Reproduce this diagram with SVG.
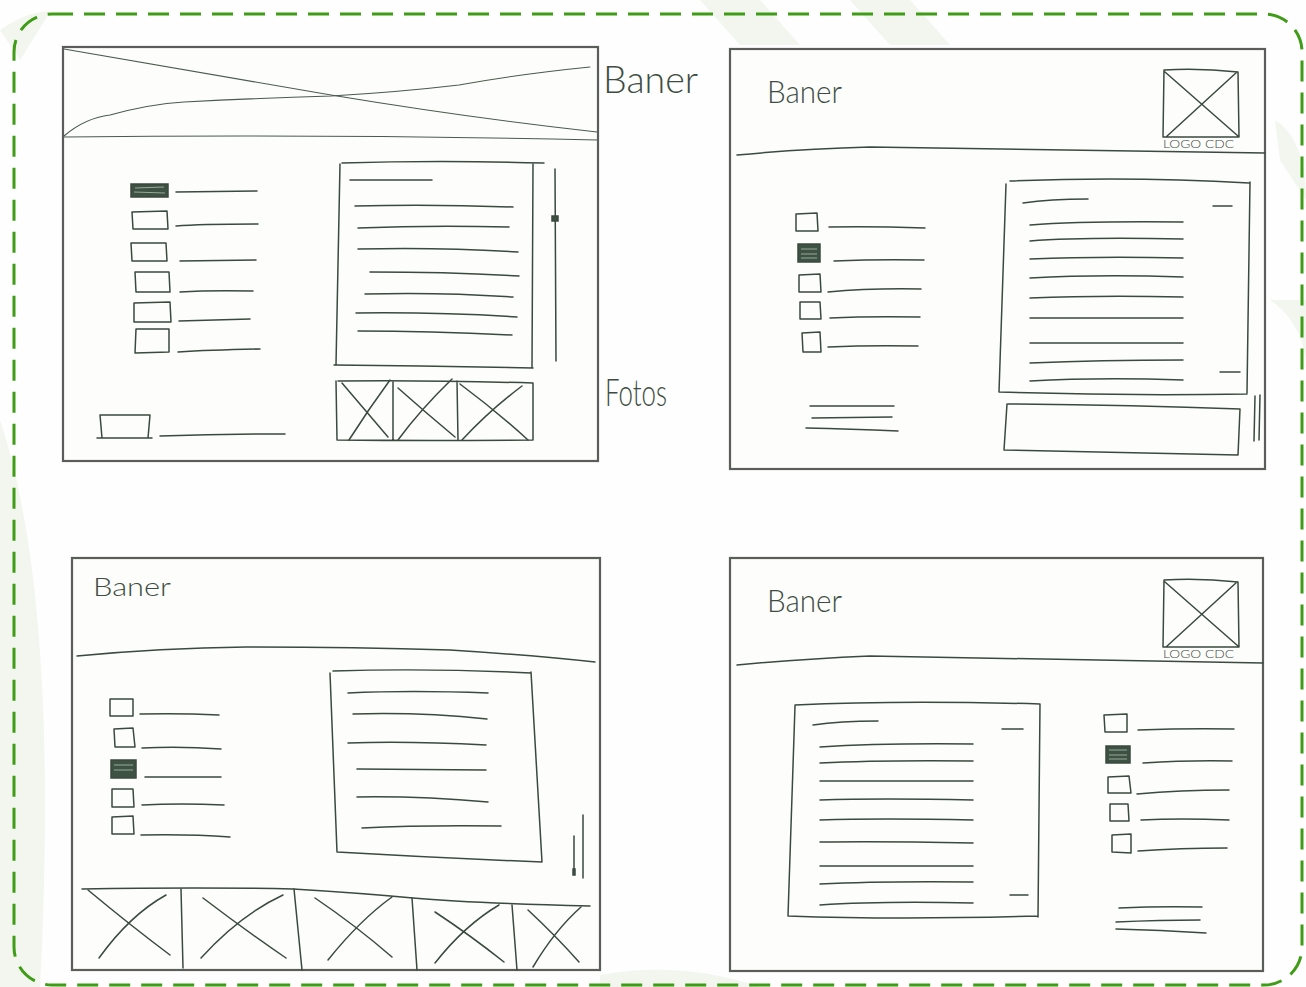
<svg xmlns="http://www.w3.org/2000/svg" width="1306" height="987" viewBox="0 0 1306 987">
<defs>
<style>
.bg{fill:#fefefe}
.wm{fill:#f2f6ee}
.border{fill:none;stroke:#3f9c17;stroke-width:3;stroke-dasharray:21 11}
.fr{fill:#fdfdfc;stroke:#5b5d5b;stroke-width:2.2}
.sk{fill:none;stroke:#3a4a3e;stroke-width:1.5;stroke-linecap:round;stroke-linejoin:round}
.thin{fill:none;stroke:#4a5a4e;stroke-width:1.1;stroke-linecap:round}
.chk{fill:#3d5243;stroke:#3a4a3e;stroke-width:1.5}
.chkl{fill:none;stroke:#9aa89c;stroke-width:1.2}
.hw{font-family:Lato,"Liberation Sans",sans-serif;font-weight:300;fill:#3e4d42}
</style>
</defs>
<rect class="bg" x="0" y="0" width="1306" height="987"/>
<g id="watermark">
<path class="wm" d="M0,420 Q60,600 40,987 L0,987 Z"/>
<path class="wm" d="M700,0 L760,0 L800,45 L740,45 Z"/>
<path class="wm" d="M850,0 L910,0 L950,45 L890,45 Z"/>
<path class="wm" d="M1275,120 Q1306,140 1306,200 L1280,160 Z"/>
<path class="wm" d="M1270,300 Q1300,320 1306,360 L1306,300 Z"/>
<path class="wm" d="M600,975 Q680,960 760,987 L600,987 Z"/>
<path class="wm" d="M0,30 Q30,10 50,12 L20,60 Z"/>
</g>
<g id="border">
<rect class="border" x="14" y="14" width="1288" height="971" rx="38" ry="38"/>
</g>

<g id="wireframe-1">
<rect class="fr" x="63" y="47" width="535" height="414"/>
<path class="thin" d="M64,49 Q200,72 331,95 Q470,118 597,132"/>
<path class="thin" d="M64,136 Q85,118 110,115 Q150,104 184,102 Q260,98 331,96 Q400,92 459,85 Q520,74 590,67"/>
<path class="thin" d="M64,137 Q330,134 597,140"/>
<text class="hw" x="603" y="93" font-size="38" textLength="95" lengthAdjust="spacingAndGlyphs">Baner</text>
<text class="hw" x="605" y="406" font-size="38" textLength="62" lengthAdjust="spacingAndGlyphs">Fotos</text>
<rect class="chk" x="131" y="184" width="37" height="13"/>
<path class="chkl" d="M135,188 L164,187 M134,192 L165,193"/>
<path class="sk" d="M176,192 L257,191"/>
<path class="sk" d="M132,212 L167,211 L168,229 L133,229 Z M176,226 Q200,224 258,224"/>
<path class="sk" d="M131,243 L166,243 L167,261 L132,261 Z M180,261 L256,260"/>
<path class="sk" d="M135,272 L169,272 L170,292 L136,292 Z M180,292 Q210,290 253,291"/>
<path class="sk" d="M134,303 L170,302 L171,322 L134,322 Z M179,321 L250,319"/>
<path class="sk" d="M136,329 L169,329 L169,352 L135,353 Z M178,352 Q210,350 260,349"/>
<path class="sk" d="M342,163 Q440,160 544,163 M340,164 L336,365 M533,164 L532,368 M334,365 Q430,366 533,368"/>
<path class="sk" d="M350,180 L432,180"/>
<path class="sk" d="M355,206 Q430,204 513,207"/>
<path class="sk" d="M358,228 Q430,225 509,227"/>
<path class="sk" d="M358,249 Q440,247 518,252"/>
<path class="sk" d="M370,272 Q450,272 519,276"/>
<path class="sk" d="M365,294 Q440,292 513,297"/>
<path class="sk" d="M356,313 Q440,312 517,317"/>
<path class="sk" d="M358,331 Q430,331 512,335"/>
<path class="sk" d="M555,169 L556,361"/>
<path class="chk" d="M552,216 L558,216 L558,221 L552,221 Z"/>
<path class="sk" d="M338,381 Q430,380 533,383 L533,440 Q430,441 337,440 L336,381 M393,381 L393,440 M457,381 L458,440"/>
<path class="sk" d="M342,383 Q365,410 388,437 M349,440 Q368,410 390,380"/>
<path class="sk" d="M398,388 Q425,412 455,437 M398,440 Q420,410 452,379"/>
<path class="sk" d="M460,384 Q495,410 528,440 M462,440 Q490,410 522,386"/>
<path class="sk" d="M100,415 L150,415 L148,438 L102,438 Z M97,438 L152,438 M160,436 Q220,434 285,434"/>
</g>

<g id="wireframe-2">
<rect class="fr" x="730" y="49" width="535" height="420"/>
<text class="hw" x="767" y="103" font-size="31" textLength="75" lengthAdjust="spacingAndGlyphs">Baner</text>
<path class="sk" d="M737,155 Q800,149 870,147 Q1050,149 1265,153"/>
<path class="sk" d="M1164,70 Q1200,68 1238,72 L1239,137 L1163,137 Z M1165,72 L1238,136 M1237,72 L1166,137"/>
<text class="hw" x="1163" y="148" font-size="12" textLength="71" lengthAdjust="spacingAndGlyphs">LOGO CDC</text>
<path class="sk" d="M796,214 L817,213 L818,231 L796,231 Z M829,227 Q870,226 925,228"/>
<rect class="chk" x="798" y="244" width="22" height="18"/>
<path class="chkl" d="M801,249 L817,249 M801,254 L817,254 M801,258 L817,258"/>
<path class="sk" d="M834,261 Q880,259 924,260"/>
<path class="sk" d="M799,275 L820,274 L821,292 L799,292 Z M828,292 Q870,288 921,289"/>
<path class="sk" d="M800,302 L820,302 L821,319 L800,319 Z M830,318 Q870,316 920,317"/>
<path class="sk" d="M802,333 L820,332 L821,352 L803,352 Z M828,347 Q870,345 918,346"/>
<path class="sk" d="M810,406 L894,406 M812,418 L892,417 M806,428 Q850,429 898,431"/>
<path class="sk" d="M1010,181 Q1130,176 1249,183 M1006,184 L999,392 M1250,182 L1247,393 M999,392 Q1120,396 1247,394"/>
<path class="sk" d="M1023,203 Q1050,199 1088,199"/>
<path class="sk" d="M1213,206 L1232,206 M1220,372 L1240,372"/>
<path class="sk" d="M1030,225 Q1080,221 1183,222"/>
<path class="sk" d="M1030,241 Q1080,237 1183,239"/>
<path class="sk" d="M1030,259 Q1100,256 1183,258"/>
<path class="sk" d="M1030,278 Q1100,274 1183,277"/>
<path class="sk" d="M1030,298 Q1100,295 1183,297"/>
<path class="sk" d="M1030,318 L1183,318"/>
<path class="sk" d="M1030,343 L1183,343"/>
<path class="sk" d="M1030,363 Q1100,360 1183,360"/>
<path class="sk" d="M1030,381 Q1100,377 1183,380"/>
<path class="sk" d="M1008,404 Q1130,405 1240,409 L1238,455 Q1120,452 1004,450 L1007,404"/>
<path class="sk" d="M1255,396 L1254,441 M1260,395 L1259,440"/>
</g>

<g id="wireframe-3">
<rect class="fr" x="72" y="558" width="528" height="412"/>
<text class="hw" x="93" y="596" font-size="26" textLength="78" lengthAdjust="spacingAndGlyphs">Baner</text>
<path class="sk" d="M77,656 Q160,648 246,647 Q350,647 450,650 Q530,655 595,662"/>
<path class="sk" d="M110,699 L133,699 L133,716 L110,716 Z M140,714 Q180,713 219,715"/>
<path class="sk" d="M114,729 L133,728 L135,747 L115,747 Z M142,748 Q180,746 221,749"/>
<rect class="chk" x="111" y="760" width="25" height="18"/>
<path class="chkl" d="M114,765 L133,765 M114,770 L133,770"/>
<path class="sk" d="M145,777 L221,777"/>
<path class="sk" d="M112,789 L133,789 L134,807 L112,807 Z M142,805 Q180,803 224,805"/>
<path class="sk" d="M112,817 L133,816 L134,834 L112,834 Z M141,835 Q190,834 230,837"/>
<path class="sk" d="M333,671 Q430,668 531,673 M330,673 L337,852 M531,672 L542,862 M337,852 Q440,858 542,862"/>
<path class="sk" d="M348,693 Q410,690 488,693"/>
<path class="sk" d="M353,714 Q420,712 487,719"/>
<path class="sk" d="M348,743 Q410,741 486,745"/>
<path class="sk" d="M357,769 L486,770"/>
<path class="sk" d="M357,797 Q420,796 488,802"/>
<path class="sk" d="M362,828 Q420,825 501,826"/>
<path class="sk" d="M574,836 L574,873 M583,815 L583,878"/>
<path class="chk" d="M573,869 L575,869 L575,875 L573,875 Z"/>
<path class="sk" d="M82,889 Q200,887 293,889 Q360,893 413,898 Q470,903 590,906"/>
<path class="sk" d="M181,889 L183,968 M294,889 L302,970 M412,898 L417,970 M512,905 L517,970"/>
<path class="sk" d="M88,890 Q130,925 170,955 M99,958 Q130,915 166,895"/>
<path class="sk" d="M203,898 Q245,930 286,958 M201,958 Q240,915 283,895"/>
<path class="sk" d="M315,898 Q355,925 392,957 M328,960 Q360,920 392,897"/>
<path class="sk" d="M435,912 Q470,935 504,962 M435,963 Q465,925 499,905"/>
<path class="sk" d="M528,910 Q555,935 579,962 M533,967 Q555,930 581,907"/>
</g>

<g id="wireframe-4">
<rect class="fr" x="730" y="558" width="533" height="413"/>
<text class="hw" x="767" y="612" font-size="31" textLength="75" lengthAdjust="spacingAndGlyphs">Baner</text>
<path class="sk" d="M737,665 Q800,659 870,656 Q1050,659 1263,663"/>
<path class="sk" d="M1164,580 Q1200,578 1238,582 L1239,647 L1163,647 Z M1165,582 L1238,646 M1237,582 L1166,647"/>
<text class="hw" x="1163" y="658" font-size="12" textLength="71" lengthAdjust="spacingAndGlyphs">LOGO CDC</text>
<path class="sk" d="M795,705 Q900,700 1040,704 M795,706 L788,916 M1040,704 L1038,917 M788,916 Q900,920 1038,916"/>
<path class="sk" d="M813,725 Q840,721 878,721"/>
<path class="sk" d="M1002,729 L1023,729 M1010,895 L1028,895"/>
<path class="sk" d="M820,747 Q880,743 973,744"/>
<path class="sk" d="M820,763 Q880,760 973,761"/>
<path class="sk" d="M820,781 L973,781"/>
<path class="sk" d="M820,800 Q880,798 973,800"/>
<path class="sk" d="M820,820 Q880,818 973,820"/>
<path class="sk" d="M820,842 Q880,841 973,843"/>
<path class="sk" d="M820,866 L973,866"/>
<path class="sk" d="M820,884 Q880,881 973,882"/>
<path class="sk" d="M820,905 Q880,901 973,903"/>
<path class="sk" d="M1104,715 L1127,714 L1127,732 L1105,732 Z M1138,730 Q1190,728 1234,729"/>
<rect class="chk" x="1106" y="746" width="24" height="17"/>
<path class="chkl" d="M1109,750 L1127,750 M1109,755 L1127,755 M1109,759 L1127,759"/>
<path class="sk" d="M1143,763 Q1190,760 1232,761"/>
<path class="sk" d="M1108,777 L1129,776 L1131,793 L1108,793 Z M1137,794 Q1180,790 1229,790"/>
<path class="sk" d="M1110,804 L1128,804 L1129,821 L1110,821 Z M1141,820 Q1180,818 1229,820"/>
<path class="sk" d="M1112,835 L1131,834 L1131,853 L1112,852 Z M1138,851 Q1180,848 1227,848"/>
<path class="sk" d="M1119,908 Q1160,906 1202,907 M1116,922 Q1160,920 1200,920 M1116,929 Q1160,930 1206,933"/>
</g>
</svg>
